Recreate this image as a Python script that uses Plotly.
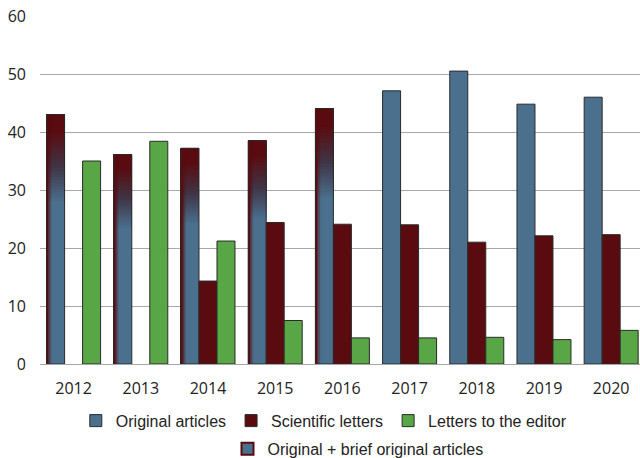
import plotly.graph_objects as go

years = ["2012", "2013", "2014", "2015", "2016", "2017", "2018", "2019", "2020"]
original_articles = [None, None, None, None, None, 47.1, 50.5, 44.8, 46.0]
original_plus_brief = [43.0, 36.1, 37.2, 38.5, 44.0, None, None, None, None]
scientific_letters = [None, None, 14.3, 24.4, 24.1, 24.0, 21.0, 22.1, 22.3]
letters_to_editor = [35.0, 38.4, 21.2, 7.5, 4.5, 4.5, 4.6, 4.2, 5.8]
y_ticks = [0, 10, 20, 30, 40, 50, 60]

BLUE = (74, 112, 142)
RED = (90, 11, 15)
MID = (64, 52, 70)
GREEN = "#58a646"
OUT = "#2a2a2a"

def rgb(c, a=1.0):
    return f"rgba({int(round(c[0]))},{int(round(c[1]))},{int(round(c[2]))},{a})"

def lerp(a, b, t):
    return tuple(a[i] + (b[i] - a[i]) * t for i in range(3))

xi = list(range(len(years)))
px = 1 / 67.2
W = 18 * px
OFF1, OFF2, OFF3 = -1.5 * W, -0.5 * W, 0.5 * W

fig = go.Figure()

# Original articles (solid blue)
fig.add_trace(go.Bar(x=xi, y=original_articles, offset=OFF1, width=W,
                     marker=dict(color=rgb(BLUE), line=dict(color=OUT, width=1)),
                     name="Original articles", legend="legend", opacity=1))

# Original + brief original articles: gradient bar built from value fractions
gx = [i for i, v in enumerate(original_plus_brief) if v is not None]
gv = [original_plus_brief[i] for i in gx]
fig.add_trace(go.Bar(x=gx, y=gv, offset=OFF1, width=W,
                     marker=dict(color=rgb(BLUE), line=dict(width=0)),
                     showlegend=False, opacity=1, hoverinfo="skip"))
f_lo, f_hi = 0.64, 0.93
n = 24
for k in range(n + 1):
    a = f_lo + (f_hi - f_lo) * k / n
    t = k / n
    c = lerp(BLUE, MID, t * 2) if t < 0.5 else lerp(MID, RED, (t - 0.5) * 2)
    fig.add_trace(go.Bar(x=gx, y=[v * (1 - a) for v in gv], base=[v * a for v in gv],
                         offset=OFF1, width=W,
                         marker=dict(color=rgb(c), line=dict(width=0)),
                         showlegend=False, opacity=1, hoverinfo="skip"))
# left edge horizontal shading
for j, alpha in enumerate([1.0, 0.85, 0.6, 0.35, 0.15]):
    fig.add_trace(go.Bar(x=gx, y=gv, offset=OFF1 + j * px, width=px * 1.05,
                         marker=dict(color=rgb(RED, alpha), line=dict(width=0)),
                         showlegend=False, opacity=1, hoverinfo="skip"))
# outline
fig.add_trace(go.Bar(x=gx, y=gv, offset=OFF1, width=W,
                     marker=dict(color="rgba(0,0,0,0)", line=dict(color=OUT, width=1)),
                     showlegend=False, opacity=1, hoverinfo="skip"))

fig.add_trace(go.Bar(x=xi, y=scientific_letters, offset=OFF2, width=W,
                     marker=dict(color=rgb(RED), line=dict(color=OUT, width=1)),
                     name="Scientific letters", legend="legend", opacity=1))
fig.add_trace(go.Bar(x=xi, y=letters_to_editor, offset=OFF3, width=W,
                     marker=dict(color=GREEN, line=dict(color=OUT, width=1)),
                     name="Letters to the editor", legend="legend", opacity=1))

# legend-only entry for the gradient series
fig.add_trace(go.Bar(x=[None], y=[None],
                     marker=dict(color=rgb(BLUE), line=dict(color=rgb(RED), width=2)),
                     name="Original + brief original articles", legend="legend2",
                     showlegend=True))

fig.update_layout(
    width=640, height=458,
    margin=dict(l=40, r=0, t=16, b=94, autoexpand=False),
    barmode="overlay",
    plot_bgcolor="white", paper_bgcolor="white",
    font=dict(family="Open Sans", size=16, color="#222"),
    legend=dict(orientation="h", x=0.473, xanchor="center", y=-0.163, yanchor="middle",
                font=dict(family="Liberation Sans", size=16, color="#222"),
                itemwidth=30, bgcolor="rgba(0,0,0,0)"),
    legend2=dict(orientation="h", x=0.53, xanchor="center", y=-0.244, yanchor="middle",
                 font=dict(family="Liberation Sans", size=16, color="#222"),
                 itemwidth=30, bgcolor="rgba(0,0,0,0)"),
)
fig.update_xaxes(range=[-0.5, 8.429], tickmode="array", tickvals=xi, ticktext=years,
                 showgrid=False, showline=True, linecolor="#a8a8a8", linewidth=1,
                 ticks="", ticklabelstandoff=10, automargin=False,
                 tickfont=dict(family="Open Sans", size=16))
fig.update_yaxes(range=[0, 60], tickmode="array", tickvals=y_ticks,
                 showgrid=True, gridcolor="#a8a8a8", gridwidth=1, zeroline=False,
                 showline=False, ticks="", ticklabelstandoff=13, automargin=False,
                 tickfont=dict(family="Open Sans", size=16))

fig.write_html("out.html", config={"displayModeBar": False},
               post_script="document.body.style.margin='0';")
